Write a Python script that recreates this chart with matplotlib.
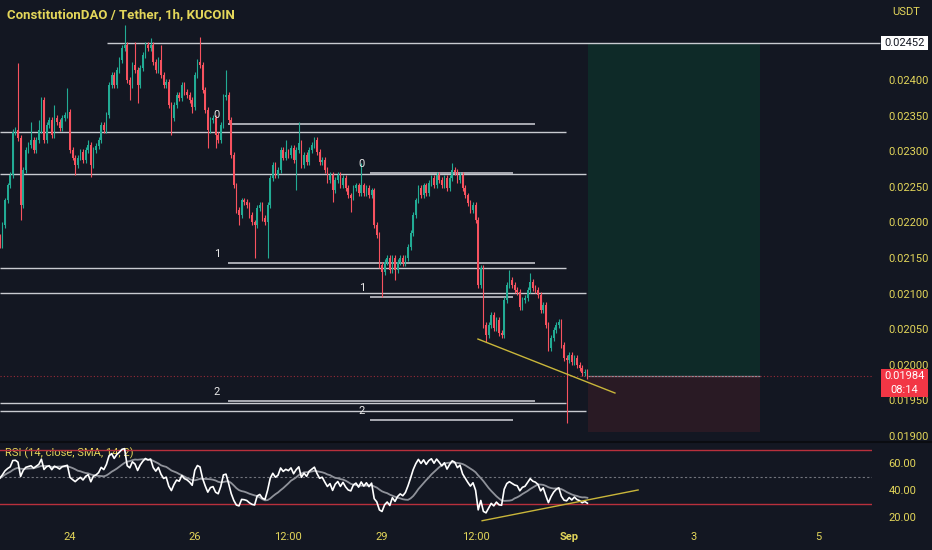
import numpy as np
import pandas as pd
import matplotlib
matplotlib.use('Agg')
import matplotlib.pyplot as plt
from matplotlib.patches import Rectangle

plt.rcParams['font.family'] = ['Liberation Sans Narrow', 'Roboto', 'DejaVu Sans']

BG = '#131722'
UP = '#22ab94'
DN = '#f7525f'
YEL = '#e3d65a'
LINE = '#c9cbd1'

title = 'ConstitutionDAO / Tether, 1h, KUCOIN'

# hourly candles, hour 0 = Aug 24 00:00, prices in 1e-5 USDT
first_hour = -27
first_open = 2180
close_units = [
    2168, 2196, 2231, 2252, 2267, 2327, 2330, 2319, 2224, 2274,
    2302, 2309, 2316, 2302, 2316, 2330, 2372, 2316, 2337, 2344,
    2323, 2347, 2341, 2333, 2347, 2351, 2355, 2302, 2291, 2281,
    2291, 2299, 2288, 2302, 2309, 2281, 2302, 2307, 2316, 2337,
    2330, 2351, 2393, 2407, 2393, 2414, 2428, 2445, 2449, 2400,
    2393, 2421, 2414, 2393, 2417, 2435, 2449, 2445, 2449, 2425,
    2414, 2428, 2407, 2393, 2397, 2365, 2347, 2365, 2379, 2375,
    2393, 2383, 2379, 2372, 2362, 2407, 2425, 2421, 2386, 2358,
    2330, 2344, 2347, 2323, 2316, 2337, 2376, 2379, 2344, 2295,
    2252, 2217, 2210, 2231, 2229, 2224, 2210, 2200, 2196, 2220,
    2224, 2206, 2200, 2224, 2262, 2281, 2267, 2274, 2302, 2291,
    2299, 2295, 2305, 2288, 2302, 2312, 2281, 2295, 2285, 2302,
    2309, 2316, 2299, 2285, 2288, 2274, 2260, 2267, 2245, 2260,
    2267, 2252, 2262, 2248, 2238, 2235, 2248, 2252, 2241, 2252,
    2241, 2248, 2238, 2245, 2196, 2182, 2140, 2130, 2144, 2150,
    2133, 2150, 2133, 2144, 2150, 2143, 2150, 2165, 2185, 2210,
    2231, 2248, 2238, 2252, 2241, 2255, 2262, 2252, 2267, 2260,
    2252, 2262, 2248, 2262, 2274, 2271, 2260, 2267, 2248, 2238,
    2227, 2217, 2224, 2203, 2112, 2136, 2056, 2042, 2056, 2070,
    2052, 2063, 2045, 2042, 2091, 2112, 2119, 2112, 2105, 2102,
    2081, 2091, 2094, 2105, 2116, 2108, 2105, 2098, 2077, 2084,
    2056, 2024, 2038, 2049, 2056, 2060, 2028, 2010, 2007, 2014,
    2004, 2010, 2000, 1996, 1988, 1990, 1984,
]
high_units = {7: 2424, 12: 2341, 15: 2344, 21: 2365, 26: 2389, 34: 2316,
              48: 2477, 52: 2453, 58: 2459, 62: 2449, 77: 2460, 87: 2414,
              110: 2316, 115: 2341, 121: 2320, 139: 2283, 174: 2283,
              196: 2133, 204: 2129}
low_units = {8: 2203, 29: 2267, 35: 2264, 50: 2372, 53: 2368, 66: 2323,
             74: 2354, 80: 2304, 83: 2304, 92: 2196, 98: 2150, 103: 2150,
             114: 2245, 127: 2256, 128: 2228, 135: 2214, 147: 2095,
             152: 2119, 187: 2032, 218: 1918}

tick_hours = [0, 48, 84, 120, 156, 192, 240, 288]
tick_labels = ['24', '26', '12:00', '29', '12:00', 'Sep', '3', '5']
price_ticks = [0.019, 0.0195, 0.02, 0.0205, 0.021, 0.0215, 0.022, 0.0225, 0.023, 0.0235, 0.024]
rsi_ticks = [20, 40, 60]

# drawn lines: (price, hour start, hour end)
long_lines = [(0.02327, -27, 190.8), (0.02136, -27, 190.8), (0.01946, -27, 190.8),
              (0.02268, -27, 198.5), (0.02101, -27, 198.5), (0.01935, -27, 198.5)]
fib_a = [0.02338, 0.02143, 0.01949]
fib_b = [0.02269, 0.02095, 0.01923]
target_price = 0.02452
entry_price = 0.01984
stop_price = 0.01906
trend_price = [(156.9, 0.020362), (209.6, 0.019604)]
trend_rsi = [(158.5, 17.2), (218.5, 40.2)]

closes = np.array(close_units) / 1e5
opens = np.concatenate([[first_open / 1e5], closes[:-1]])
hours = first_hour + np.arange(len(closes))
highs = np.maximum(opens, closes) + 0.00004
lows = np.minimum(opens, closes) - 0.00004
for i, v in high_units.items():
    highs[i] = max(highs[i], v / 1e5)
for i, v in low_units.items():
    lows[i] = min(lows[i], v / 1e5)
colors = np.where(closes >= opens, UP, DN)

# RSI 14 (Wilder) and its SMA 14
rsi = []
ag = al = 0.00022
prev = first_open / 1e5
for c in closes:
    d = c - prev
    prev = c
    ag = (ag * 13 + max(d, 0)) / 14
    al = (al * 13 + max(-d, 0)) / 14
    rsi.append(100 - 100 / (1 + ag / al))
rsi = np.array(rsi)
rsi_ma = pd.Series(rsi).rolling(14, min_periods=1).mean().values

W, H = 932, 550
fig = plt.figure(figsize=(W / 100, H / 100), dpi=100, facecolor=BG)
ax = fig.add_axes([0, 1 - 441 / H, 872 / W, 441 / H], facecolor=BG)
ax2 = fig.add_axes([0, 1 - 522 / H, 872 / W, 80 / H], facecolor=BG, sharex=ax)
xlim = (-26.92, 308.46)

# long position box
ax.add_patch(Rectangle((199.2, entry_price), 66.2, target_price - entry_price,
                       facecolor='#0e2a28', edgecolor='none', zorder=0))
ax.add_patch(Rectangle((199.2, stop_price), 66.2, entry_price - stop_price,
                       facecolor='#291a24', edgecolor='none', zorder=0))
ax.hlines(entry_price, 199.2, 265.4, color='#8e9099', lw=0.9, zorder=1)

# horizontal drawings
ax.hlines(target_price, 14.2, 311.5, color=LINE, lw=1, zorder=1, clip_on=False)
for p, h0, h1 in long_lines:
    ax.hlines(p, h0, h1, color=LINE, lw=1, zorder=1)
for k, p in enumerate(fib_a):
    ax.hlines(p, 60.8, 178.8, color='#a9abb2', lw=1.4, zorder=1)
    ax.text(56.5, p + 0.000126, str(k), color='#e8e8e8', fontsize=8, ha='center', va='center')
for k, p in enumerate(fib_b):
    ax.hlines(p, 115.4, 170.4, color='#a9abb2', lw=1.4, zorder=1)
    ax.text(112.3, p + 0.000126, str(k), color='#e8e8e8', fontsize=8, ha='center', va='center')

# candles
ax.vlines(hours, lows, highs, colors=colors, lw=0.8, zorder=2)
ax.bar(hours, np.maximum(np.abs(closes - opens), 0.000012), bottom=np.minimum(opens, closes),
       width=0.65, color=colors, lw=0, zorder=3)

ax.axhline(entry_price, color='#9a2b38', lw=0.8, ls=(0, (1, 2)), zorder=1)
ax.plot(*zip(*trend_price), color='#c9b63a', lw=1, zorder=4)

ax.set_xlim(*xlim)
ax.set_ylim(0.018930, 0.025124)
ax.yaxis.tick_right()
ax.set_yticks(price_ticks)
ax.set_yticklabels([f'{t:.5f}' for t in price_ticks])
ax.tick_params(axis='y', length=0, pad=12, labelsize=8, labelcolor=YEL)
ax.tick_params(axis='x', length=0, labelbottom=False)
for s in ax.spines.values():
    s.set_visible(False)
ax.text(0.008, 0.968, title, transform=ax.transAxes, color=YEL, fontsize=9.5,
        fontweight='bold', ha='left', va='center')

# RSI pane
ax2.axhline(70, color='#b8303c', lw=1)
ax2.axhline(30, color='#b8303c', lw=1)
ax2.axhline(50, color='#70737c', lw=0.8, ls=(0, (2, 2)))
ax2.text(0.006, 0.86, 'RSI (14, close, SMA, 14, 2)', transform=ax2.transAxes,
         color=YEL, fontsize=8, ha='left', va='center', zorder=1)
ax2.plot(hours, rsi_ma, color='#8f929a', lw=1.3, zorder=2)
ax2.plot(hours, rsi, color='#ffffff', lw=1.2, zorder=3)
ax2.plot(*zip(*trend_rsi), color='#c9b63a', lw=1, zorder=4)
ax2.set_ylim(16.26, 76.07)
ax2.yaxis.tick_right()
ax2.set_yticks(rsi_ticks)
ax2.set_yticklabels([f'{t:.2f}' for t in rsi_ticks])
ax2.tick_params(axis='y', length=0, pad=12, labelsize=8, labelcolor=YEL)
ax2.set_xticks(tick_hours)
ax2.set_xticklabels(tick_labels)
ax2.tick_params(axis='x', length=0, pad=7, labelsize=8, labelcolor=YEL)
for lab in ax2.get_xticklabels():
    if lab.get_text() == 'Sep':
        lab.set_fontweight('bold')
for s in ax2.spines.values():
    s.set_visible(False)
ax2.set_xlim(*xlim)

# pane separator and price axis labels
fig.add_artist(plt.Line2D([0, 1], [1 - 441.5 / H, 1 - 441.5 / H], color='#0a0c11', lw=1.5))
fig.text(906 / W, 1 - 12 / H, 'USDT', color=YEL, fontsize=8, ha='center', va='center')
fig.add_artist(Rectangle((881 / W, 1 - 50 / H), 47 / W, 14 / H, facecolor='white',
                         edgecolor='none', transform=fig.transFigure))
fig.text(904.5 / W, 1 - 43 / H, f'{target_price:.5f}', color=BG, fontsize=8, ha='center', va='center')
fig.add_artist(Rectangle((881 / W, 1 - 397 / H), 47 / W, 28 / H, facecolor='#f23645',
                         edgecolor='none', transform=fig.transFigure))
fig.text(904.5 / W, 1 - 376 / H, f'{entry_price:.5f}', color='white', fontsize=8, ha='center', va='center')
fig.text(904.5 / W, 1 - 390 / H, '08:14', color='white', fontsize=8, ha='center', va='center')

fig.savefig('out.png', dpi=100, facecolor=BG)
